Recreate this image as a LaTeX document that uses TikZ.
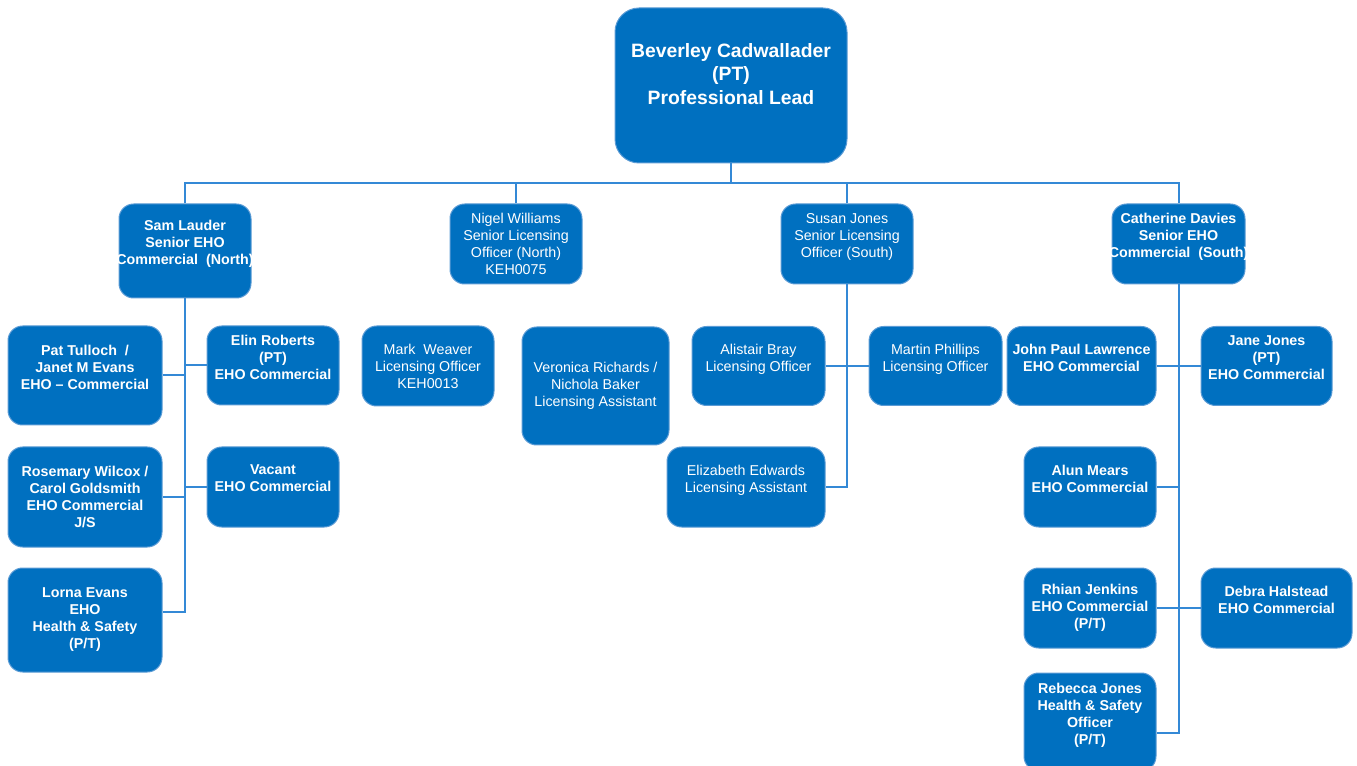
\documentclass[tikz,border=0pt]{standalone}
\usepackage{fontspec}
\setmainfont{Liberation Sans}
\usetikzlibrary{calc}

\definecolor{boxblue}{RGB}{0,112,192}
\definecolor{edgeblue}{RGB}{91,155,213}
\definecolor{lineblue}{RGB}{52,137,214}

\tikzset{every picture/.style={line width=0.75pt}}
\tikzset{
  orgbox/.style={rectangle, rounded corners=11pt, fill=boxblue, draw=edgeblue, line width=0.75pt,
    text=white, align=center, inner sep=0pt, font=\fontsize{10.7}{12.75}\selectfont},
  boldbox/.style={orgbox, font=\fontsize{10.7}{12.75}\selectfont\bfseries},
  boxsize/.style 2 args={minimum width=#1*0.75pt, minimum height=#2*0.75pt},
  link/.style={draw=lineblue, line width=1.5pt}
}

\begin{document}
\begin{tikzpicture}[x=0.75pt,y=0.75pt,yscale=-1,xscale=1]
\useasboundingbox (0,0) rectangle (1357,766);

% Text Node
\node [boldbox, boxsize={232}{155}, rounded corners=18pt, font=\fontsize{14.5}{17.6}\selectfont\bfseries] (lead) at (731,85.5) {Beverley Cadwallader\\(PT)\\Professional Lead\\\mbox{}};

% Text Node
\node [boldbox, boxsize={132}{94}] (sam) at (185,251) {Sam Lauder\\Senior EHO\\\makebox[0pt]{Commercial\ \ (North)}\\\mbox{}};
% Text Node
\node [orgbox, boxsize={132}{80}] (nigel) at (516,244) {Nigel Williams\\Senior Licensing\\Officer (North)\\KEH0075};
% Text Node
\node [orgbox, boxsize={132}{80}] (susan) at (847,244) {Susan Jones\\Senior Licensing\\Officer (South)\\\mbox{}};
% Text Node
\node [boldbox, boxsize={133}{80}] (cath) at (1178.5,244) {Catherine Davies\\Senior EHO\\\makebox[0pt]{Commercial\ \ (South)}\\\mbox{}};

% Text Node
\node [boldbox, boxsize={154}{99}] (pat) at (85,375.5) {Pat Tulloch\ \ /\\Janet M Evans\\EHO -- Commercial\\\mbox{}};
% Text Node
\node [boldbox, boxsize={132}{79}] (elin) at (273,365.5) {Elin Roberts\\(PT)\\EHO Commercial\\\mbox{}};
% Text Node
\node [boldbox, boxsize={154}{100}] (rosemary) at (85,497) {Rosemary Wilcox /\\Carol Goldsmith\\EHO Commercial\\J/S};
% Text Node
\node [boldbox, boxsize={132}{80}] (vacant) at (273,487) {Vacant\\EHO Commercial\\\mbox{}};
% Text Node
\node [boldbox, boxsize={154}{104}] (lorna) at (85,620) {Lorna Evans\\EHO\\Health \& Safety\\(P/T)};

% Text Node
\node [orgbox, boxsize={132}{80}] (mark) at (428,366) {Mark\ \ Weaver\\Licensing Officer\\KEH0013};
% Text Node
\node [orgbox, boxsize={147}{118}] (veronica) at (595.5,386) {Veronica Richards /\\Nichola Baker\\Licensing Assistant};

% Text Node
\node [orgbox, boxsize={133}{79}] (alistair) at (758.5,366) {Alistair Bray\\Licensing Officer\\\mbox{}};
% Text Node
\node [orgbox, boxsize={133}{79}] (martin) at (935.5,366) {Martin Phillips\\Licensing Officer\\\mbox{}};
% Text Node
\node [orgbox, boxsize={158}{80}] (elizabeth) at (746,487) {Elizabeth Edwards\\Licensing Assistant\\\mbox{}};

% Text Node
\node [boldbox, boxsize={149}{79}] (john) at (1081.5,366) {John Paul Lawrence\\EHO Commercial\\\mbox{}};
% Text Node
\node [boldbox, boxsize={131}{79}] (jane) at (1266.5,366) {Jane Jones\\(PT)\\EHO Commercial\\\mbox{}};
% Text Node
\node [boldbox, boxsize={132}{80}] (alun) at (1090,487) {Alun Mears\\EHO Commercial\\\mbox{}};
% Text Node
\node [boldbox, boxsize={132}{80}] (rhian) at (1090,608) {Rhian Jenkins\\EHO Commercial\\(P/T)};
% Text Node
\node [boldbox, boxsize={151}{80}] (debra) at (1276.5,608) {Debra Halstead\\EHO Commercial\\\mbox{}};
% Text Node
\node [boldbox, boxsize={132}{98}] (rebecca) at (1090,722) {Rebecca Jones\\Health \& Safety\\Officer\\(P/T)\\\mbox{}};

%Straight Lines
\draw [link] (lead.south) -- ++(0,20) coordinate (bus);
\draw [link] (sam.north) |- (bus) -| (cath.north);
\draw [link] (nigel.north) -- (nigel.north |- bus);
\draw [link] (susan.north) -- (susan.north |- bus);

\coordinate (lornaIn) at ($(lorna.east)+(0,-8)$);
\draw [link] (sam.south) |- (lornaIn);
\draw [link] (pat.east) -- (pat.east -| sam.south);
\draw [link] (rosemary.east) -- (rosemary.east -| sam.south);
\draw [link] (elin.west) -- (elin.west -| sam.south);
\draw [link] (vacant.west) -- (vacant.west -| sam.south);

\draw [link] (susan.south) |- (elizabeth.east);
\draw [link] (alistair.east) -- (martin.west);

\coordinate (rebeccaIn) at ($(rebecca.east)+(0,11)$);
\draw [link] (cath.south) |- (rebeccaIn);
\draw [link] (john.east) -- (jane.west);
\draw [link] (alun.east) -- (alun.east -| cath.south);
\draw [link] (rhian.east) -- (debra.west);
\end{tikzpicture}
\end{document}
